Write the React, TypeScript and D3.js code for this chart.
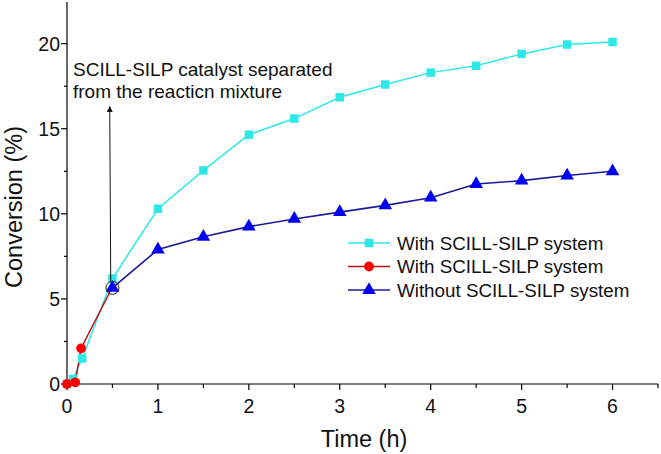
import { useRef, useEffect } from "react";
import * as d3 from "d3";

// data
const cyanTime = [0, 0.067, 0.167, 0.5, 1, 1.5, 2, 2.5, 3, 3.5, 4, 4.5, 5, 5.5, 6];
const cyanConv = [0, 0.3, 1.5, 6.2, 10.3, 12.55, 14.65, 15.6, 16.85, 17.6, 18.3, 18.7, 19.4, 19.95, 20.1];
const redTime = [0, 0.09, 0.155, 0.5];
const redConv = [0, 0.1, 2.1, 5.7];
const blueTime = [0.5, 1, 1.5, 2, 2.5, 3, 3.5, 4, 4.5, 5, 5.5, 6];
const blueConv = [5.65, 7.9, 8.65, 9.25, 9.7, 10.1, 10.5, 10.95, 11.75, 11.95, 12.25, 12.5];
const xTicks = [0, 1, 2, 3, 4, 5, 6];
const yTicks = [0, 5, 10, 15, 20];
const legendLabels = ["With SCILL-SILP system", "With SCILL-SILP system", "Without SCILL-SILP system"];
const noteLines = ["SCILL-SILP catalyst separated", "from the reacticn mixture"];

const FONT = "Arial, 'Liberation Sans', sans-serif";
const CYAN = "#2ee8e8";
const RED = "#ff0000";
const BLUE = "#0000f0";

export default function App() {
  const svgRef = useRef<SVGSVGElement>(null);

  useEffect(() => {
    if (!svgRef.current) return;
    const W = 661, H = 454;
    const margin = { top: 2, right: 3, bottom: 70, left: 67 };
    const svg = d3.select(svgRef.current);
    svg.selectAll("*").remove();

    const x = d3.scaleLinear().domain([0, 6.5]).range([margin.left, W - margin.right]);
    const y = d3.scaleLinear().domain([0, 22.45]).range([H - margin.bottom, margin.top]);
    const y0 = y(0);

    const g = svg.append("g").attr("font-family", FONT);

    // axes lines
    g.append("line").attr("x1", x(0)).attr("x2", x(6.5)).attr("y1", y0).attr("y2", y0).attr("stroke", "#000").attr("stroke-width", 1.2);
    g.append("line").attr("x1", x(0)).attr("x2", x(0)).attr("y1", y0).attr("y2", y(22.45)).attr("stroke", "#000").attr("stroke-width", 1.2);

    // x ticks
    d3.range(0, 6.51, 0.5).forEach((t) => {
      const major = Number.isInteger(t);
      g.append("line").attr("x1", x(t)).attr("x2", x(t)).attr("y1", y0).attr("y2", y0 + (major ? 6 : 4)).attr("stroke", "#000").attr("stroke-width", 1.2);
    });
    g.append("g").selectAll("text").data(xTicks).join("text")
      .attr("x", (d) => x(d)).attr("y", y0 + 29).attr("text-anchor", "middle")
      .style("font-size", "19.5px").attr("fill", "#111").text((d) => String(d));

    // y ticks
    d3.range(0, 22.1, 2.5).forEach((t) => {
      const major = t % 5 === 0;
      g.append("line").attr("x1", x(0)).attr("x2", x(0) - (major ? 6 : 3)).attr("y1", y(t)).attr("y2", y(t)).attr("stroke", "#000").attr("stroke-width", 1.2);
    });
    g.append("g").selectAll("text").data(yTicks).join("text")
      .attr("x", x(0) - 7).attr("y", (d) => y(d)).attr("dy", "0.35em").attr("text-anchor", "end")
      .style("font-size", "19.5px").attr("fill", "#111").text((d) => String(d));

    // axis titles
    g.append("text").attr("transform", `translate(22,207) rotate(-90)`).attr("text-anchor", "middle")
      .style("font-size", "23.5px").attr("fill", "#111").text("Conversion (%)");
    g.append("text").attr("x", 364).attr("y", 447).attr("text-anchor", "middle")
      .style("font-size", "23.5px").attr("fill", "#111").text("Time (h)");

    const line = d3.line<[number, number]>().x((d) => x(d[0])).y((d) => y(d[1]));
    const zip = (a: number[], b: number[]) => a.map((v, i) => [v, b[i]] as [number, number]);

    const cyanPts = zip(cyanTime, cyanConv);
    const redPts = zip(redTime, redConv);
    const bluePts = zip(blueTime, blueConv);

    g.append("path").attr("d", line(cyanPts)).attr("fill", "none").attr("stroke", CYAN).attr("stroke-width", 1.5);
    g.append("path").attr("d", line(bluePts)).attr("fill", "none").attr("stroke", "#1a1a9a").attr("stroke-width", 1.6);
    g.append("path").attr("d", line(redPts)).attr("fill", "none").attr("stroke", "#c01010").attr("stroke-width", 1.5);

    const square = d3.symbol().type(d3.symbolSquare).size(72);
    const circle = d3.symbol().type(d3.symbolCircle).size(75);
    const tri = d3.symbol().type(d3.symbolTriangle).size(80);

    g.append("g").selectAll("path").data(cyanPts).join("path")
      .attr("transform", (d) => `translate(${x(d[0])},${y(d[1])})`).attr("d", square()).attr("fill", CYAN);
    g.append("g").selectAll("path").data(bluePts).join("path")
      .attr("transform", (d) => `translate(${x(d[0])},${y(d[1])})`).attr("d", tri()).attr("fill", BLUE);
    g.append("g").selectAll("path").data(redPts.slice(0, 3)).join("path")
      .attr("transform", (d) => `translate(${x(d[0])},${y(d[1])})`).attr("d", circle()).attr("fill", RED);

    // circled point + arrow
    g.append("circle").attr("cx", x(0.5)).attr("cy", y(5.65)).attr("r", 6.5).attr("fill", "none").attr("stroke", "#222").attr("stroke-width", 1);
    svg.append("defs").append("marker").attr("id", "arr").attr("viewBox", "0 0 10 10").attr("refX", 9).attr("refY", 5)
      .attr("markerWidth", 6).attr("markerHeight", 8).attr("orient", "auto")
      .append("path").attr("d", "M0,0 L10,5 L0,10 z").attr("fill", "#111");
    g.append("line").attr("x1", x(0.47) + 1).attr("x2", x(0.47)).attr("y1", y(5.65) - 7).attr("y2", y(16.3))
      .attr("stroke", "#111").attr("stroke-width", 1).attr("marker-end", "url(#arr)");

    g.append("g").selectAll("text").data(noteLines).join("text")
      .attr("x", 73).attr("y", (_, i) => 76 + i * 22)
      .style("font-size", "19px").attr("fill", "#111").text((d) => d);

    // legend
    const legColors = [CYAN, "#c01010", "#1a1a9a"];
    const legMarkColors = [CYAN, RED, BLUE];
    const legShapes = [square, circle, tri];
    legendLabels.forEach((label, i) => {
      const ly = 243 + i * 23.5;
      g.append("line").attr("x1", 348).attr("x2", 390).attr("y1", ly).attr("y2", ly).attr("stroke", legColors[i]).attr("stroke-width", 1.5);
      g.append("path").attr("transform", `translate(369,${ly})`).attr("d", legShapes[i]()).attr("fill", legMarkColors[i]);
      g.append("text").attr("x", 397).attr("y", ly).attr("dy", "0.35em").style("font-size", "18.8px").attr("fill", "#111").text(label);
    });
  }, []);

  return (
    <svg ref={svgRef} width={661} height={454} style={{ position: "absolute", left: 0, top: 0, background: "#fff" }} />
  );
}
